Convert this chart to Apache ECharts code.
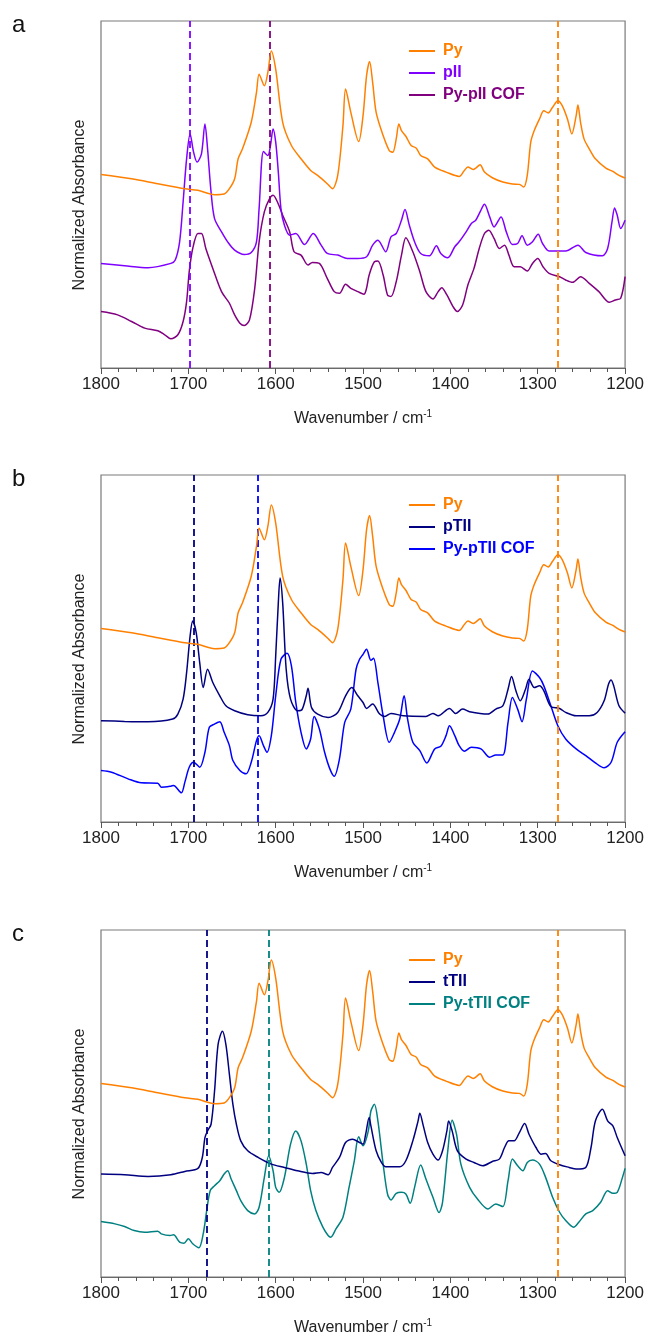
<!DOCTYPE html>
<html>
<head>
<meta charset="utf-8">
<script src="https://cdn.jsdelivr.net/npm/echarts@6/dist/echarts.min.js"></script>
<style>
html,body{margin:0;padding:0;background:#fff;}
#chart{width:647px;height:1338px;}
</style>
</head>
<body>
<div id="chart"></div>
<script>
// ---- data: [wavenumber (cm-1), normalized absorbance (offset, arb. units)] ----
const xTicks = [1800, 1700, 1600, 1500, 1400, 1300, 1200];

const py = [[1800,583],[1765,570],[1735,555],[1704,540],[1689,535],[1670,522],[1659,524],[1653,540],[1647,570],[1643,630],[1638,660],[1628,740],[1622,830],[1619,885],[1613,850],[1609,890],[1605,955],[1600,900],[1592,740],[1582,670],[1571,630],[1560,595],[1552,580],[1541,555],[1535,540],[1529,580],[1523,730],[1520,840],[1514,770],[1505,682],[1500,760],[1496,880],[1492.5,923],[1489,860],[1485,770],[1477,700],[1470,655],[1466,650],[1462,690],[1459,735],[1456,715],[1451,698],[1445,670],[1439,662],[1434,640],[1426,630],[1418,605],[1405,590],[1390,577],[1384,595],[1380,605],[1374,598],[1371,602],[1366,612],[1361,590],[1352,573],[1340,560],[1329,554],[1321,553],[1316,545],[1312,580],[1308,680],[1304,715],[1298,750],[1293,775],[1288,768],[1283,785],[1277,805],[1272,790],[1266,750],[1261,705],[1256,760],[1254,792],[1251,740],[1247,690],[1241,660],[1234,630],[1222,602],[1214,592],[1207,580],[1200,572]];

const pII = [[1800,315],[1773,308],[1746,302],[1720,315],[1715,325],[1710,380],[1706,500],[1702,630],[1698,705],[1694,650],[1690,620],[1685,645],[1681,735],[1678,660],[1674,530],[1670,450],[1662,410],[1655,380],[1647,355],[1636,342],[1628,348],[1622,380],[1619,480],[1614,652],[1609,640],[1606,670],[1603,720],[1600,680],[1597,590],[1594,480],[1590,430],[1584,400],[1577,405],[1567,372],[1557,405],[1548,370],[1541,345],[1529,340],[1518,330],[1506,330],[1496,335],[1489,370],[1483,385],[1474,350],[1468,395],[1462,405],[1456,445],[1452,477],[1447,430],[1441,380],[1434,345],[1424,338],[1416,368],[1411,345],[1403,332],[1395,365],[1390,380],[1382,410],[1376,435],[1371,445],[1366,470],[1361,493],[1355,455],[1350,425],[1342,455],[1336,410],[1329,372],[1323,375],[1318,398],[1312,370],[1306,380],[1299.5,403],[1294.5,375],[1287,352],[1268,352],[1254,370],[1245,348],[1226,338],[1220,360],[1215,440],[1212,482],[1209,460],[1205,420],[1200,445]];

const pyPII = [[1800,170],[1781,160],[1765,140],[1750,120],[1735,112],[1727,100],[1720,88],[1712,100],[1706,140],[1702,200],[1699,290],[1695,360],[1689,405],[1685,405],[1680,360],[1672,300],[1662,230],[1653,195],[1647,160],[1641,135],[1636,128],[1630,145],[1624,240],[1619,380],[1613,470],[1607,510],[1603,520],[1598,500],[1592,460],[1584,410],[1579,350],[1571,340],[1563,310],[1558,318],[1550,315],[1541,270],[1533,230],[1527,225],[1520,252],[1514,240],[1506,230],[1499,222],[1496,240],[1493,280],[1487,320],[1483,322],[1477,280],[1472,220],[1468,215],[1462,260],[1456,340],[1451,392],[1443,350],[1435,290],[1428,230],[1420,208],[1414,230],[1410,242],[1404,220],[1397,185],[1392,170],[1386,190],[1380,250],[1373,300],[1367,360],[1361,405],[1356,415],[1350,390],[1344,360],[1338,370],[1333,340],[1327,305],[1320,305],[1312,292],[1306,315],[1300,330],[1294,305],[1287,285],[1275,275],[1268,265],[1260,258],[1251,275],[1241,255],[1230,230],[1218,198],[1211,205],[1205,210],[1200,275]];

const pTII = [[1800,305],[1773,303],[1746,302],[1718,310],[1712,325],[1706,370],[1702,450],[1698,560],[1695,605],[1691,570],[1687,480],[1683,405],[1678,460],[1672,420],[1664,380],[1657,350],[1647,335],[1632,323],[1617,320],[1609,330],[1603,370],[1600,500],[1597,660],[1595,735],[1592,660],[1588,460],[1583,370],[1575,335],[1570,338],[1565,380],[1563,403],[1559,345],[1552,325],[1540,315],[1529,330],[1520,380],[1513,405],[1506,380],[1500,360],[1496,342],[1489,355],[1481,325],[1475,318],[1468,327],[1454,320],[1428,318],[1420,327],[1414,320],[1401,342],[1394,327],[1386,340],[1378,332],[1357,325],[1348,340],[1340,350],[1334,400],[1330,438],[1325,395],[1320,365],[1314,400],[1310,430],[1304,405],[1298,410],[1293,395],[1285,348],[1275,342],[1268,330],[1256,320],[1241,320],[1232,330],[1224,365],[1219,415],[1216,428],[1213,410],[1207,350],[1200,328]];

const pyPTII = [[1800,155],[1788,150],[1769,130],[1754,118],[1735,117],[1731,105],[1720,108],[1717,110],[1708,88],[1704,120],[1699,165],[1694,180],[1687,165],[1681,210],[1676,285],[1670,295],[1664,302],[1659,270],[1653,230],[1649,185],[1641,155],[1634,145],[1628,180],[1622,245],[1619,260],[1614,230],[1610,210],[1605,260],[1600,380],[1594,490],[1587,508],[1582,470],[1577,360],[1571,270],[1565,220],[1560,250],[1556,318],[1550,280],[1544,210],[1538,160],[1533,138],[1527,190],[1521,300],[1514,340],[1508,460],[1504,490],[1500,505],[1496,520],[1491,487],[1488,493],[1483,420],[1477,320],[1470,240],[1464,270],[1458,310],[1453,380],[1449,310],[1443,240],[1435,215],[1427,178],[1418,220],[1411,228],[1405,260],[1401,290],[1395,260],[1390,230],[1384,213],[1376,225],[1365,220],[1355,195],[1348,202],[1340,202],[1334,300],[1329,375],[1323,340],[1318,302],[1313,370],[1306,455],[1298,435],[1293,410],[1285,350],[1277,290],[1268,250],[1256,220],[1245,200],[1234,178],[1224,163],[1216,180],[1209,240],[1200,272]];

const tTII = [[1800,310],[1773,308],[1746,303],[1720,308],[1704,318],[1689,327],[1684,360],[1681,420],[1678,440],[1674,460],[1670,560],[1666,700],[1661,740],[1657,700],[1653,610],[1649,520],[1645,460],[1640,410],[1632,380],[1620,360],[1605,340],[1590,330],[1575,320],[1558,312],[1548,315],[1540,308],[1535,330],[1527,360],[1520,405],[1512,415],[1504,405],[1500,400],[1497,430],[1493,480],[1491,455],[1485,380],[1479,345],[1474,332],[1458,332],[1451,350],[1443,410],[1437,470],[1435,493],[1431,455],[1426,405],[1420,370],[1414,352],[1409,380],[1404,440],[1402,470],[1398,440],[1392,380],[1382,355],[1373,345],[1363,335],[1352,348],[1344,355],[1338,390],[1333,410],[1327,410],[1321,435],[1315,462],[1310,430],[1302,390],[1296,370],[1291,372],[1285,350],[1275,338],[1264,330],[1256,325],[1245,330],[1239,390],[1234,470],[1226,505],[1220,470],[1214,455],[1209,420],[1200,365]];

const pyTTII = [[1800,167],[1784,160],[1773,152],[1762,140],[1750,135],[1735,138],[1731,130],[1721,125],[1717,127],[1710,105],[1705,102],[1700,115],[1695,100],[1688,88],[1683,130],[1679,200],[1675,260],[1670,275],[1664,290],[1659,310],[1655,320],[1651,295],[1645,260],[1640,230],[1632,200],[1624,190],[1619,210],[1613,300],[1608,365],[1603,320],[1600,270],[1596,255],[1590,300],[1583,400],[1577,440],[1571,410],[1565,340],[1560,260],[1554,200],[1546,150],[1540,125],[1537,120],[1531,145],[1523,180],[1516,270],[1510,350],[1505,422],[1500,395],[1494,440],[1491,500],[1487,520],[1483,470],[1477,340],[1472,250],[1468,232],[1462,252],[1456,255],[1451,250],[1446,222],[1441,270],[1434,337],[1428,295],[1420,240],[1413,194],[1409,225],[1403,380],[1398,472],[1393,430],[1388,340],[1378,270],[1369,235],[1357,205],[1348,220],[1340,212],[1334,290],[1329,355],[1323,335],[1317,320],[1312,345],[1306,352],[1298,340],[1291,300],[1283,240],[1275,195],[1268,170],[1259,150],[1253,165],[1245,190],[1237,200],[1228,225],[1220,260],[1214,252],[1209,255],[1203,300],[1200,327]];

// reference band positions (dashed lines), per panel, in series order: [Py, ligand, COF]
const bandsA = [1277, 1698, 1607];
const bandsB = [1277, 1694, 1620];
const bandsC = [1277, 1679, 1608];

const panelLetters = ['a', 'b', 'c'];
const namesA = ['Py', 'pII', 'Py-pII COF'];
const namesB = ['Py', 'pTII', 'Py-pTII COF'];
const namesC = ['Py', 'tTII', 'Py-tTII COF'];

// ---- styling / layout ----
const FONT = 'Liberation Sans, Arial, sans-serif';
const colorsA = ['#FF8000', '#8000FF', '#800080'];
const colorsB = ['#FF8000', '#000080', '#0000FF'];
const colorsC = ['#FF8000', '#000080', '#008080'];
const tops = [21, 475, 930];
const plotLeft = 101, plotW = 525, plotH = 347;
const yMax = 1045;

const panels = [
  {data: [py, pII, pyPII], names: namesA, colors: colorsA, bands: bandsA},
  {data: [py, pTII, pyPTII], names: namesB, colors: colorsB, bands: bandsB},
  {data: [py, tTII, pyTTII], names: namesC, colors: colorsC, bands: bandsC}
];

const grid = [], xAxis = [], yAxis = [], series = [], legend = [], graphic = [];
panels.forEach((p, i) => {
  grid.push({left: plotLeft, top: tops[i], width: plotW, height: plotH, show: true,
    borderColor: '#7a7a7a', borderWidth: 1.2, backgroundColor: 'transparent'});
  xAxis.push({type: 'value', gridIndex: i, inverse: true, min: 1200, max: 1800, interval: 100,
    axisLine: {show: true, lineStyle: {color: '#6a6a6a', width: 1.2}},
    axisTick: {show: true, length: 6, lineStyle: {color: '#555', width: 1}},
    minorTick: {show: true, splitNumber: 5, length: 4, lineStyle: {color: '#555', width: 1}},
    splitLine: {show: false},
    axisLabel: {fontSize: 17, color: '#222', fontFamily: FONT, margin: 8,
      formatter: v => xTicks.indexOf(v) >= 0 ? String(v) : ''},
    name: '{t|Wavenumber / cm}{s|-1}', nameLocation: 'middle', nameGap: 41,
    nameTextStyle: {fontFamily: FONT, color: '#222',
      rich: {t: {fontSize: 16, fontFamily: FONT, color: '#222', lineHeight: 20},
             s: {fontSize: 10, fontFamily: FONT, color: '#222', verticalAlign: 'top', lineHeight: 12, padding: [0, 0, 8, 0]}}}
  });
  yAxis.push({type: 'value', gridIndex: i, min: 0, max: yMax,
    axisLine: {show: false}, axisTick: {show: false}, axisLabel: {show: false}, splitLine: {show: false}});
  p.data.forEach((d, k) => {
    series.push({
      name: p.names[k], type: 'line', xAxisIndex: i, yAxisIndex: i, data: d,
      showSymbol: false, symbol: 'none', smooth: 0.3, z: 3 + (2 - k),
      itemStyle: {color: p.colors[k]},
      lineStyle: {color: p.colors[k], width: 1.5},
      markLine: {silent: true, symbol: 'none', label: {show: false},
        lineStyle: {color: p.colors[k], type: [7, 4], width: 1.8},
        data: [{xAxis: p.bands[k]}]}
    });
  });
  legend.push({orient: 'vertical', left: 409, top: tops[i] + 21, padding: 0, icon: 'rect',
    itemWidth: 26, itemHeight: 2, itemGap: 4,
    textStyle: {fontFamily: FONT, fontSize: 16, fontWeight: 'bold', lineHeight: 18, padding: [0, 0, 0, 3]},
    data: p.names.map((n, k) => ({name: n, textStyle: {color: p.colors[k]}})),
    selectedMode: false});
  graphic.push({type: 'text', left: 12, top: tops[i] - 8,
    style: {text: panelLetters[i], font: '24px ' + FONT, fill: '#111'}});
  graphic.push({type: 'text', x: 80, y: tops[i] + 184, rotation: Math.PI / 2,
    style: {text: 'Normalized Absorbance', font: '16px ' + FONT, fill: '#222',
      textAlign: 'center', textVerticalAlign: 'middle'}});
});

const chart = echarts.init(document.getElementById('chart'), null, {renderer: 'canvas'});
chart.setOption({animation: false, backgroundColor: '#fff', grid, xAxis, yAxis, series, legend, graphic});
</script>
</body>
</html>
